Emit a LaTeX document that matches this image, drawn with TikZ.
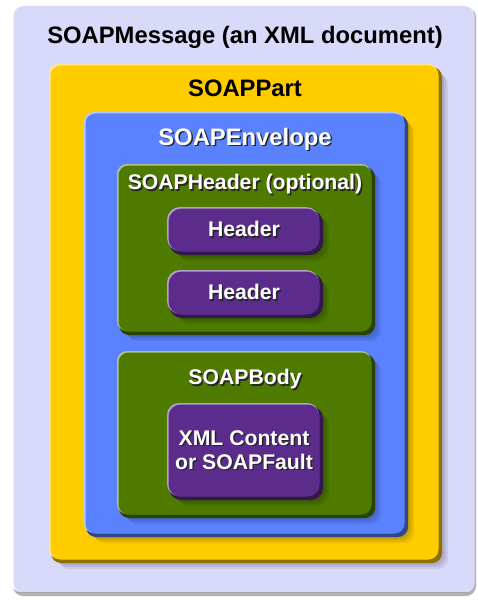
\documentclass[tikz,border=0pt]{standalone}
\usepackage{fontspec}
\setmainfont{Liberation Sans}
\usetikzlibrary{positioning,calc}

\definecolor{msgcol}{RGB}{217,217,250}
\definecolor{partcol}{RGB}{255,204,0}
\definecolor{envcol}{RGB}{90,130,255}
\definecolor{grncol}{RGB}{78,122,0}
\definecolor{purcol}{RGB}{92,44,140}

\begin{document}
\begin{tikzpicture}[x=1pt,y=-1pt,
  box/.style={rounded corners=10pt, inner sep=0pt, draw=none},
  bigtxt/.style={inner sep=1pt, font=\fontsize{23.8}{27}\selectfont\bfseries},
  smalltxt/.style={inner sep=1pt, font=\fontsize{21.2}{24}\selectfont\bfseries, text=white, align=center}]

\useasboundingbox[fill=white] (0,0) rectangle (477,604);

% name, x1, y1, x2, y2, fill colour, corner radius
\newcommand{\soapbox}[7]{%
  \foreach \s in {3,5,7,9}
    \fill[black, opacity=.07, rounded corners=#7] (#2+\s,#3+\s) rectangle (#4+\s,#5+\s);
  \fill[#6!55!black, rounded corners=#7] (#2+1,#3+2) rectangle (#4+3,#5+3);
  \fill[#6!45!white, rounded corners=#7] (#2-1,#3-1) rectangle (#4-1,#5-1);
  \node[box, rounded corners=#7, fill=#6, minimum width={#4-#2-1}, minimum height={#5-#3-1}]
    (#1) at ({(#2+#4)/2},{(#3+#5)/2}) {};
}
\newcommand{\shadowed}[1]{\makebox[0pt][l]{\hspace{1.5pt}\raisebox{-1.5pt}{\color{black!85}#1}}#1}

% outer message
\fill[gray!60, rounded corners=10pt] (13,7) rectangle (476,596);
\fill[white, rounded corners=10pt] (11,4) rectangle (474,592);
\node[box, fill=msgcol, minimum width=461, minimum height=587] (msg) at (244,299.5) {};
\draw[gray!70] (16,592) -- (470,592);

\soapbox{part}{50}{65}{439}{560}{partcol}{10pt}
\soapbox{env}{85}{113}{405}{534}{envcol}{10pt}
\soapbox{hdr}{118}{165}{372}{332}{grncol}{10pt}
\soapbox{hone}{168}{208}{320}{252}{purcol}{13pt}
\soapbox{htwo}{168}{271}{320}{315}{purcol}{13pt}
\soapbox{body}{118}{352}{372}{515}{grncol}{10pt}
\soapbox{cont}{168}{404}{320}{497}{purcol}{12pt}

% labels
\node[bigtxt] (msglbl) at (245,37) {SOAPMessage (an XML document)};
\node[bigtxt] (partlbl) at (245,88) {SOAPPart};
\node[bigtxt, text=white] (envlbl) at (245,140) {\shadowed{SOAPEnvelope}};
\node[smalltxt] (hdrlbl) at (245,185) {\shadowed{SOAPHeader (optional)}};
\node[smalltxt] (honelbl) at (hone) {\shadowed{Header}};
\node[smalltxt] (htwolbl) at (htwo) {\shadowed{Header}};
\node[smalltxt] (bodylbl) at (245,380) {\shadowed{SOAPBody}};
\node[smalltxt] (contlbl) at (cont) {\shadowed{XML Content}\\\shadowed{or SOAPFault}};

\end{tikzpicture}
\end{document}
